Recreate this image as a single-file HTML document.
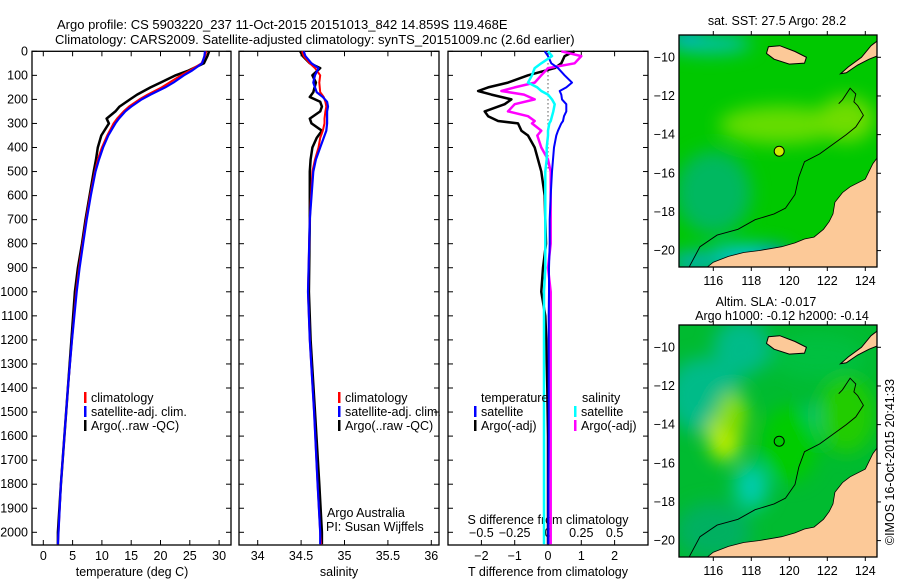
<!DOCTYPE html>
<html><head><meta charset="utf-8"><style>
body{margin:0;background:#fff;}
svg{display:block;font-family:"Liberation Sans",sans-serif;}
text{font-size:12px;fill:#000;}
</style></head><body>
<svg id="s" width="900" height="580" viewBox="0 0 900 580">
<defs>
<filter id="bl" x="-20%" y="-20%" width="140%" height="140%"><feGaussianBlur stdDeviation="9"/></filter>
<clipPath id="c1"><rect x="679" y="35" width="198" height="232"/></clipPath>
<clipPath id="c2"><rect x="679" y="325" width="198" height="232"/></clipPath>
</defs>
<text x="57" y="29" style="font-size:13px">Argo profile: CS 5903220_237 11-Oct-2015 20151013_842 14.859S 119.468E</text>
<text x="55" y="44" style="font-size:13px">Climatology: CARS2009. Satellite-adjusted climatology: synTS_20151009.nc (2.6d earlier)</text>
<g id="g"></g>
</svg>
<script>
// ---- data ----
const tDepth=[0,20,50,80,100,130,150,180,200,230,250,280,300,350,400,450,500,600,700,800,900,1000,1200,1400,1600,1800,2000,2050];
const tClim=[27.8,27.6,27.0,25.0,23.5,21.5,20.2,17.8,16.4,14.6,13.7,12.6,12.0,10.9,10.0,9.3,8.8,8.0,7.3,6.7,6.1,5.6,4.9,4.2,3.6,3.0,2.6,2.5];
const tSat=[27.6,27.5,27.1,25.4,24.0,22.2,20.8,18.3,16.8,15.0,14.0,12.9,12.3,11.1,10.2,9.5,8.9,8.1,7.4,6.8,6.2,5.7,4.9,4.2,3.6,3.0,2.6,2.5];
const tArgo=[28.3,28.0,27.4,24.8,22.6,20.0,18.3,16.0,14.8,13.0,12.3,10.8,11.2,9.9,9.3,9.0,8.6,7.9,7.2,6.6,5.9,5.4,4.8,4.2,3.6,3.0,2.5,2.5];
const sDepth=[0,20,50,70,100,130,170,190,210,230,250,280,300,330,360,400,450,500,700,1000,1200,1500,1800,2000,2050];
const sClim=[34.51,34.53,34.6,34.66,34.72,34.71,34.72,34.76,34.78,34.79,34.78,34.77,34.77,34.75,34.72,34.7,34.66,34.63,34.6,34.58,34.6,34.65,34.69,34.72,34.73];
const sSat=[34.53,34.55,34.62,34.7,34.66,34.64,34.68,34.75,34.8,34.81,34.8,34.8,34.8,34.79,34.76,34.72,34.67,34.64,34.6,34.58,34.6,34.65,34.69,34.72,34.72];
const sArgo=[34.49,34.52,34.6,34.72,34.63,34.67,34.64,34.6,34.72,34.74,34.72,34.6,34.62,34.74,34.68,34.63,34.61,34.6,34.6,34.59,34.61,34.66,34.71,34.74,34.74];
const dDepth=[0,20,50,70,100,130,150,165,180,200,220,250,270,290,300,330,350,400,450,500,600,700,800,900,1000,1100,1200,1400,1600,1800,2000,2050];
const dTsat=[-0.1,0.0,0.1,0.3,0.5,0.72,0.55,0.35,0.4,0.42,0.55,0.55,0.48,0.45,0.4,0.3,0.25,0.18,0.15,0.12,0.08,0.05,0.05,0.03,0.03,0.02,0.02,0.02,0.02,0.01,0.01,0.01];
const dTargo=[0.8,0.5,0.4,0.2,-0.6,-1.2,-1.8,-2.1,-1.7,-1.1,-1.3,-1.9,-1.8,-1.5,-0.9,-0.8,-0.6,-0.4,-0.3,-0.2,-0.1,-0.08,-0.06,-0.15,-0.2,-0.08,-0.05,-0.02,0.0,0.0,0.0,0.0];
const dSsat=[0.0,0.03,-0.05,-0.1,-0.12,-0.15,-0.08,-0.05,0.0,0.03,0.05,0.04,0.03,0.02,0.01,0.0,0.0,-0.01,-0.01,-0.02,-0.02,-0.02,-0.02,-0.02,-0.03,-0.03,-0.03,-0.03,-0.03,-0.03,-0.03,-0.03];
const dSargo=[0.1,0.25,0.2,0.0,-0.05,-0.1,-0.25,-0.35,-0.18,-0.1,-0.25,-0.3,-0.15,-0.1,-0.12,-0.05,-0.08,-0.05,0.0,0.02,0.02,0.02,0.02,0.0,0.02,0.02,0.02,0.02,0.02,0.02,0.02,0.02];
const depthTicks=[0,100,200,300,400,500,600,700,800,900,1000,1100,1200,1300,1400,1500,1600,1700,1800,1900,2000];
const tTicks=[0,5,10,15,20,25,30];
const sTicks=[34,34.5,35,35.5,36];
const dTticks=[-2,-1,0,1,2];
const dSticks=[-0.5,-0.25,0,0.25,0.5];
const lonTicks=[116,118,120,122,124];
const latTicks=[-10,-12,-14,-16,-18,-20];

const NS='http://www.w3.org/2000/svg';
const G=document.getElementById('g');
function mk(tag,attrs,parent){const e=document.createElementNS(NS,tag);for(const k in attrs)e.setAttribute(k,attrs[k]);(parent||G).appendChild(e);return e;}
function txt(x,y,s,anchor,size){const e=mk('text',{x:x,y:y,'text-anchor':anchor||'start'});if(size)e.style.fontSize=size+'px';e.textContent=s;return e;}
const yD=d=>51.3+d*0.2405;
const xT=t=>43.3+t*5.86;
const xS=s=>257.7+(s-34)*86.8;
const xDT=t=>548+t*33.3;
const xDS=s=>548+s*133.2;
const PY0=51.3,PY1=545;
const panels=[[32,231],[239,439],[448,648]];
panels.forEach((p,i)=>{const r=mk('rect',{x:p[0],y:PY0,width:p[1]-p[0],height:PY1-PY0,fill:'none',stroke:'#000','stroke-width':1.3});
});
depthTicks.forEach(d=>{const y=yD(d);
 panels.forEach(p=>{mk('line',{x1:p[0],x2:p[0]+5,y1:y,y2:y,stroke:'#000'});mk('line',{x1:p[1],x2:p[1]-5,y1:y,y2:y,stroke:'#000'});});
 const t=txt(28,y+4,String(d),'end',12.5);});
function xticks(vals,fx,p,ylab,labels){vals.forEach(v=>{const x=fx(v);mk('line',{x1:x,x2:x,y1:PY1,y2:PY1-5,stroke:'#000'});mk('line',{x1:x,x2:x,y1:PY0,y2:PY0+5,stroke:'#000'});
 if(labels){const t=txt(x,ylab,String(v).replace('-','\u2212'),'middle',12.5);}});}
xticks(tTicks,xT,panels[0],560,true);
xticks(sTicks,xS,panels[1],560,true);
xticks(dTticks,xDT,panels[2],560,true);
dSticks.forEach(v=>{const t=txt(xDS(v),537,String(v).replace('-','\u2212'),'middle',12.5);});
[[132,'temperature (deg C)'],[339,'salinity'],[548,'T difference from climatology']].forEach(a=>{const t=txt(a[0],576,a[1],'middle',12.5);});
{const t=txt(548,524,'S difference from climatology','middle',12.5);}
mk('line',{x1:xDT(0),x2:xDT(0),y1:yD(50),y2:yD(500),stroke:'#000','stroke-dasharray':'1,3'});
function line(xs,ds,fx,color,w,name){const pts=xs.map((v,i)=>fx(v).toFixed(1)+','+yD(ds[i]).toFixed(1)).join(' ');
 const e=mk('polyline',{points:pts,fill:'none',stroke:color,'stroke-width':w,'stroke-linejoin':'round'});}
line(tArgo,tDepth,xT,'#000',2.5,'temp-argo-line');
line(tClim,tDepth,xT,'#f00',2,'temp-climatology-line');
line(tSat,tDepth,xT,'#00f',2.2,'temp-satellite-line');
line(sArgo,sDepth,xS,'#000',2.5,'sal-argo-line');
line(sClim,sDepth,xS,'#f00',2,'sal-climatology-line');
line(sSat,sDepth,xS,'#00f',2.2,'sal-satellite-line');
line(dTargo,dDepth,xDT,'#000',2.5,'tdiff-argo-line');
line(dSargo,dDepth,xDS,'#f0f',2.5,'sdiff-argo-line');
line(dTsat,dDepth,xDT,'#00f',2,'tdiff-satellite-line');
line(dSsat,dDepth,xDS,'#0ff',2.5,'sdiff-satellite-line');
function leg(x,y,color,label,name){mk('rect',{x:x,y:y-10,width:2.5,height:11,fill:color});const t=txt(x+7,y,label,'start',12.5);}
[[84],[338]].forEach((a,i)=>{leg(a[0],402,'#f00','climatology','legend-climatology');leg(a[0],416,'#00f','satellite-adj. clim.','legend-satellite-adj');leg(a[0],430,'#000','Argo(..raw -QC)','legend-argo');});
txt(481,402,'temperature','start',12.5);leg(474,416,'#00f','satellite','legend-t-satellite');leg(474,430,'#000','Argo(-adj)','legend-t-argo');
txt(582,402,'salinity','start',12.5);leg(574,416,'#0ff','satellite','legend-s-satellite');leg(574,430,'#f0f','Argo(-adj)','legend-s-argo');
txt(327,517,'Argo Australia','start',12.5);txt(326,531,'PI: Susan Wijffels','start',12.5);
// maps
const xL=l=>713.3+(l-116)*19;
const yL=(la,off)=>57.3+(-10-la)*19.33+off;
const coast=[[124.7,-15.1],[124.4,-15.5],[124.0,-16.3],[123.2,-16.7],[122.8,-17.0],[122.4,-17.5],[122.3,-18.1],[122.1,-18.5],[121.8,-18.9],[121.3,-19.3],[120.8,-19.4],[120.3,-19.6],[119.6,-19.8],[119.0,-19.9],[118.4,-20.0],[117.6,-20.1],[116.8,-20.3],[116.0,-20.6],[115.5,-21.0],[124.7,-21.0]];
const sumba=[[118.9,-9.45],[119.5,-9.4],[120.3,-9.7],[120.9,-10.0],[120.8,-10.3],[120.0,-10.35],[119.2,-10.1],[118.8,-9.8]];
const timor=[[124.7,-9.1],[124.7,-9.9],[124.2,-10.1],[123.6,-10.4],[123.0,-10.8],[122.7,-10.85],[123.1,-10.5],[123.8,-10.0],[124.3,-9.4]];
const shelf=[[114.7,-20.9],[115.3,-19.8],[116.2,-19.2],[117.3,-18.9],[118.2,-18.4],[119.2,-18.1],[119.8,-17.8],[120.3,-17.1],[120.5,-16.2],[120.8,-15.4],[121.6,-15.0],[122.3,-14.5],[123.0,-14.0],[123.5,-13.6],[123.9,-13.0],[123.6,-12.5],[123.4,-12.3],[123.5,-11.9],[123.2,-11.6],[122.8,-12.2],[122.6,-12.4]];
function poly(arr,off,attrs,clip,name){const e=mk('polygon',Object.assign({points:arr.map(p=>xL(p[0]).toFixed(1)+','+yL(p[1],off).toFixed(1)).join(' ')},attrs),clip);return e;}
function drawMap(off,clipId,blobs,base,name){
 const g=mk('g',{'clip-path':'url(#'+clipId+')'});
 mk('rect',{x:679,y:35+off,width:198,height:232,fill:base},g);
 const fg=mk('g',{filter:'url(#bl)'},g);
 blobs.forEach(b=>mk('ellipse',{cx:xL(b[0]),cy:yL(b[1],off),rx:b[2]*19,ry:b[3]*19,fill:b[4]},fg));
 poly(coast,off,{fill:'#fcc998',stroke:'#000','stroke-width':0.8},g,'australia-land');
 poly(sumba,off,{fill:'#fcc998',stroke:'#000','stroke-width':1},g,'sumba-island');
 poly(timor,off,{fill:'#fcc998',stroke:'#000','stroke-width':1},g,'timor-island');
 const sp=mk('polyline',{points:shelf.map(p=>xL(p[0]).toFixed(1)+','+yL(p[1],off).toFixed(1)).join(' '),fill:'none',stroke:'#000','stroke-width':0.9},g);
 
 const fr=mk('rect',{x:679,y:35+off,width:198,height:232,fill:'none',stroke:'#000','stroke-width':1.3});
 lonTicks.forEach(l=>{const x=xL(l);mk('line',{x1:x,x2:x,y1:35+off,y2:31+off,stroke:'#000'});mk('line',{x1:x,x2:x,y1:267+off,y2:271+off,stroke:'#000'});
  const t=txt(x,285+off,String(l),'middle',12.5);});
 latTicks.forEach(l=>{const y=yL(l,off);mk('line',{x1:877,x2:881,y1:y,y2:y,stroke:'#000'});
  const t=txt(675,y+4,String(l).replace('-','\u2212'),'end',12.5);});
}
drawMap(0,'c1',[[114.6,-8.9,0.9,0.4,'#0090e0'],[115.8,-9.3,2.2,0.5,'#00c0b0'],[119.5,-13.5,3.2,1.0,'#66dd00'],[123,-13.2,1.5,1.2,'#70dd00'],[116,-17,2.0,2.2,'#00b860'],[117.8,-20.3,2.2,0.6,'#00c0e0'],[119.2,-20.2,0.8,0.4,'#0090f0'],[115,-20.6,1.3,0.6,'#00b0b0']],'#00c800','sst-map');
drawMap(290,'c2',[[115.5,-12.5,2,2,'#00bb88'],[117.5,-10,1.5,1.5,'#00bb88'],[116.6,-14.6,0.9,1.3,'#bbee00'],[117,-13.5,0.8,1.2,'#88dd00'],[118,-17.2,0.9,1.2,'#00ccaa'],[121.6,-13.8,1,0.9,'#00bb88'],[121.5,-10.5,2.5,1.2,'#00c040'],[120,-15,1.5,2,'#00cc00'],[123,-13.5,1.5,2,'#22cc00'],[116,-19.5,2,1.5,'#00b060']],'#00bb30','sla-map');
{const c=mk('circle',{cx:xL(119.468),cy:yL(-14.859,0),r:5,fill:'#ccee00',stroke:'#000','stroke-width':1});
 const c2=mk('circle',{cx:xL(119.468),cy:yL(-14.859,290),r:5,fill:'none',stroke:'#000','stroke-width':1});}
txt(777,25,'sat. SST: 27.5 Argo: 28.2','middle',12.5);
txt(766,306,'Altim. SLA: -0.017','middle',12.5);
txt(782,320,'Argo h1000: -0.12 h2000: -0.14','middle',12.5);
{const t=txt(0,0,'\u00a9IMOS 16-Oct-2015 20:41:33','middle',12.5);t.setAttribute('transform','translate(894,462) rotate(-90)');}
</script>
</body></html>
